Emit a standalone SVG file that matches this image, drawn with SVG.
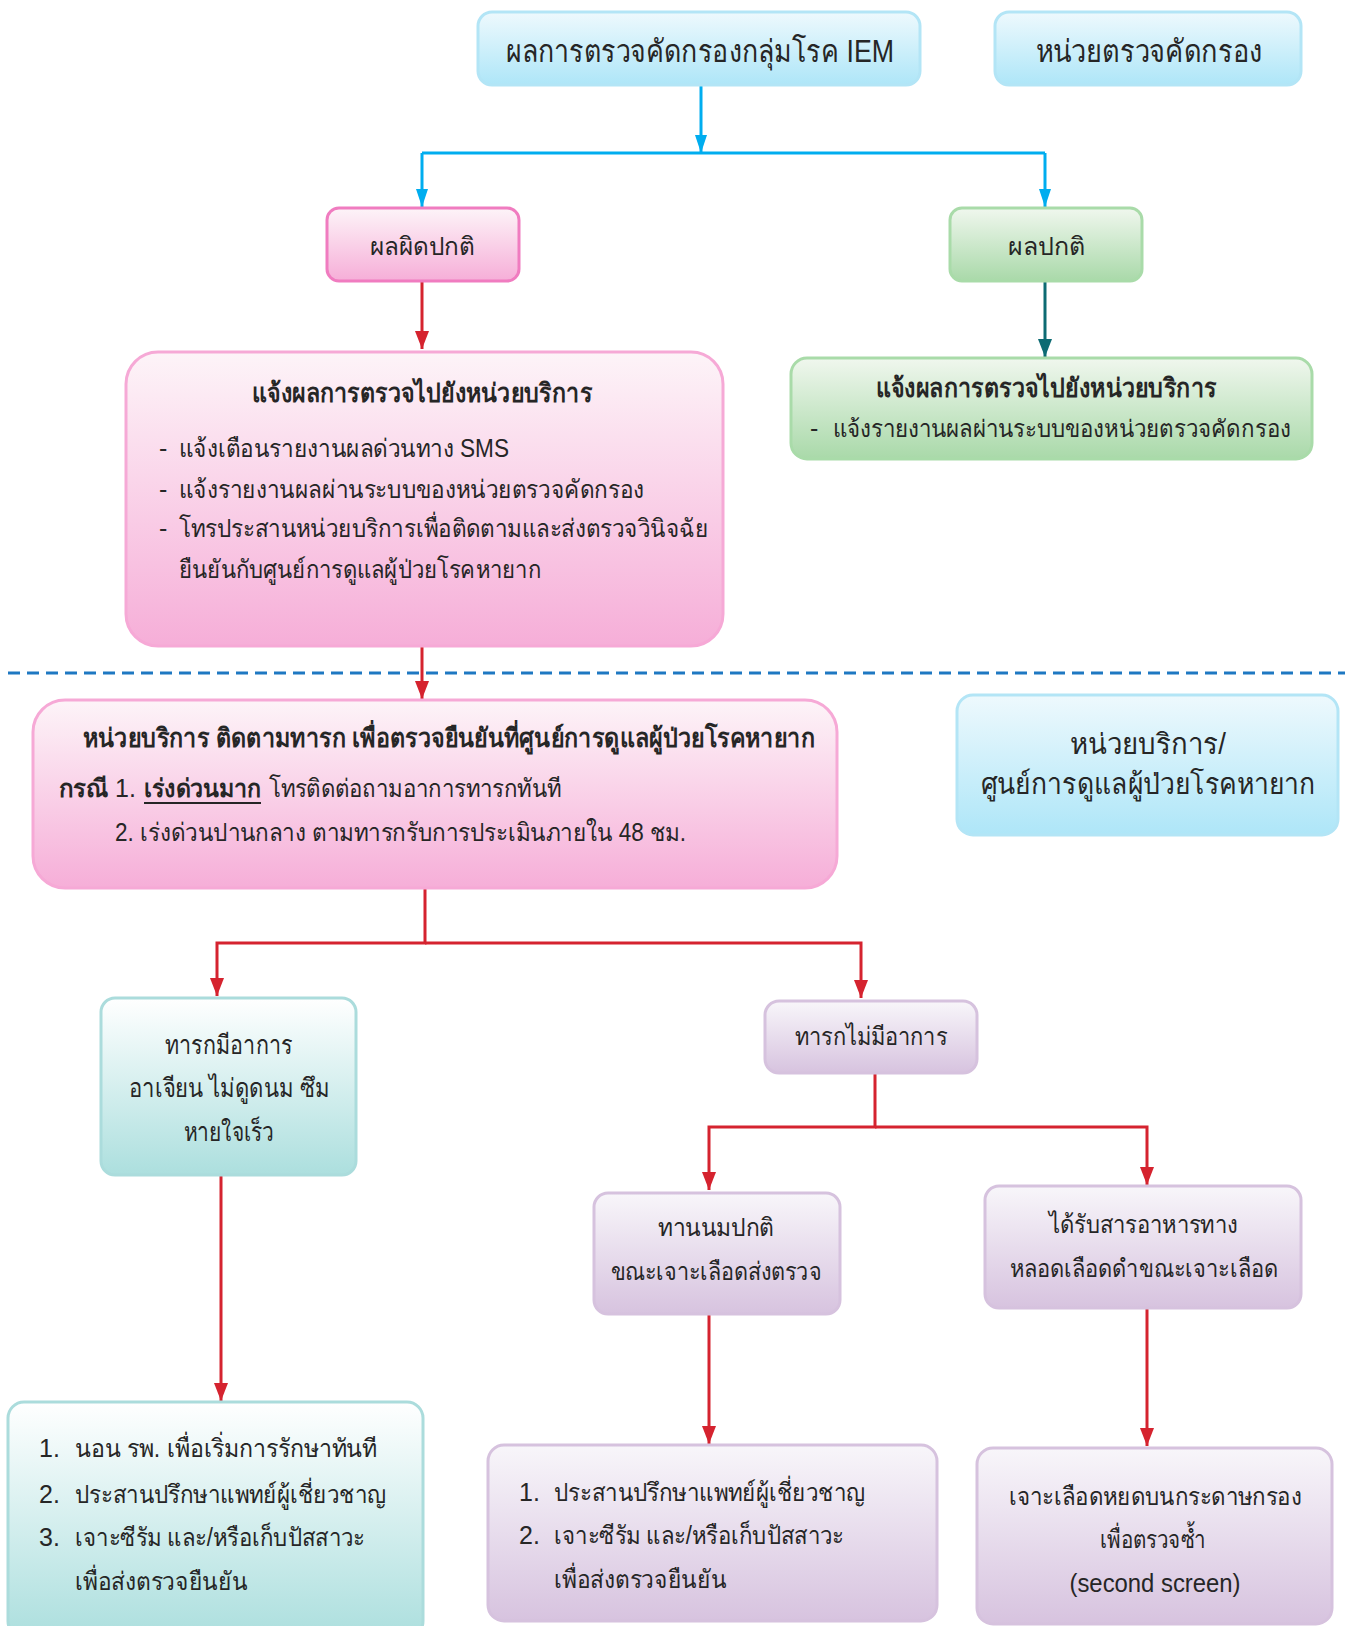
<svg xmlns="http://www.w3.org/2000/svg" width="1345" height="1626" viewBox="0 0 1345 1626">
<defs>
<linearGradient id="gBlue" x1="0" y1="0" x2="0" y2="1"><stop offset="0" stop-color="#eef9fd"/><stop offset="1" stop-color="#aee6f8"/></linearGradient>
<linearGradient id="gPink" x1="0" y1="0" x2="0" y2="1"><stop offset="0" stop-color="#fdf4f8"/><stop offset="1" stop-color="#f6aed8"/></linearGradient>
<linearGradient id="gGreen" x1="0" y1="0" x2="0" y2="1"><stop offset="0" stop-color="#f0f7ee"/><stop offset="1" stop-color="#a9d9a9"/></linearGradient>
<linearGradient id="gTeal" x1="0" y1="0" x2="0" y2="1"><stop offset="0" stop-color="#ffffff"/><stop offset="1" stop-color="#acdfde"/></linearGradient>
<linearGradient id="gPurple" x1="0" y1="0" x2="0" y2="1"><stop offset="0" stop-color="#f8f6fa"/><stop offset="1" stop-color="#d7c3df"/></linearGradient>
<marker id="aBlue" markerWidth="12" markerHeight="18" refX="6" refY="18" markerUnits="userSpaceOnUse" viewBox="0 0 12 18"><path d="M0,0 L12,0 L6,18 Z" fill="#00adef"/></marker>
<marker id="aRed" markerWidth="14" markerHeight="18" refX="7" refY="18" markerUnits="userSpaceOnUse" viewBox="0 0 14 18"><path d="M0,0 L14,0 L7,18 Z" fill="#d5232f"/></marker>
<marker id="aTeal" markerWidth="14" markerHeight="18" refX="7" refY="18" markerUnits="userSpaceOnUse" viewBox="0 0 14 18"><path d="M0,0 L14,0 L7,18 Z" fill="#0d6b73"/></marker>
</defs>
<style>
text{font-family:"Liberation Sans","DejaVu Sans",sans-serif;fill:#262626;}
.c{text-anchor:middle;}
.b{font-weight:bold;}
.blue{fill:url(#gBlue);stroke:#b3e5f6;stroke-width:3;}
.pink{fill:url(#gPink);stroke:#f6a9d6;stroke-width:3;}
.pink2{fill:url(#gPink);stroke:#f07cc0;stroke-width:3;}
.green{fill:url(#gGreen);stroke:#a9dba9;stroke-width:3;}
.teal{fill:url(#gTeal);stroke:#abdcdc;stroke-width:3;}
.purple{fill:url(#gPurple);stroke:#d6c2de;stroke-width:3;}
.lb{fill:none;stroke:#00adef;stroke-width:3;}
.lr{fill:none;stroke:#d5232f;stroke-width:3;}
.lt{fill:none;stroke:#0d6b73;stroke-width:3;}
</style>
<rect width="1345" height="1626" fill="#ffffff"/>

<g id="connectors">
<path class="lb" d="M701,85 V153" marker-end="url(#aBlue)"/>
<path class="lb" d="M422,153 H1045"/>
<path class="lb" d="M422,153 V207" marker-end="url(#aBlue)"/>
<path class="lb" d="M1045,153 V207" marker-end="url(#aBlue)"/>
<path class="lr" d="M422,281 V349" marker-end="url(#aRed)"/>
<path class="lt" d="M1045,281 V357" marker-end="url(#aTeal)"/>
<path d="M8,673 H1345" fill="none" stroke="#1e78c2" stroke-width="3" stroke-dasharray="12,7"/>
<path class="lr" d="M422,646 V699" marker-end="url(#aRed)"/>
<path class="lr" d="M425,888 V943 H217 V996" marker-end="url(#aRed)"/>
<path class="lr" d="M425,943 H861 V998" marker-end="url(#aRed)"/>
<path class="lr" d="M221,1175 V1401" marker-end="url(#aRed)"/>
<path class="lr" d="M875,1073 V1127 H709 V1190" marker-end="url(#aRed)"/>
<path class="lr" d="M875,1127 H1147 V1185" marker-end="url(#aRed)"/>
<path class="lr" d="M709,1314 V1444" marker-end="url(#aRed)"/>
<path class="lr" d="M1147,1308 V1446" marker-end="url(#aRed)"/>
</g>

<g id="n-top">
<rect class="blue" x="478" y="12" width="442" height="73" rx="14"/>
<text class="c" x="700" y="62" font-size="31" textLength="388" lengthAdjust="spacingAndGlyphs">ผลการตรวจคัดกรองกลุ่มโรค IEM</text>
</g>
<g id="n-screen-unit">
<rect class="blue" x="995" y="12" width="306" height="73" rx="14"/>
<text class="c" x="1149" y="62" font-size="31" textLength="227" lengthAdjust="spacingAndGlyphs">หน่วยตรวจคัดกรอง</text>
</g>
<g id="n-abnormal">
<rect class="pink2" x="327" y="208" width="192" height="73" rx="12"/>
<text class="c" x="422" y="255" font-size="25" textLength="105" lengthAdjust="spacingAndGlyphs">ผลผิดปกติ</text>
</g>
<g id="n-normal">
<rect class="green" x="950" y="208" width="192" height="73" rx="12"/>
<text class="c" x="1046" y="255" font-size="25" textLength="77" lengthAdjust="spacingAndGlyphs">ผลปกติ</text>
</g>
<g id="n-notify-abn">
<rect class="pink" x="126" y="352" width="597" height="294" rx="32"/>
<text class="c b" x="422" y="402" font-size="26" textLength="340" lengthAdjust="spacingAndGlyphs">แจ้งผลการตรวจไปยังหน่วยบริการ</text>
<text x="159" y="457" font-size="25">-</text><text x="179" y="457" font-size="25" textLength="330" lengthAdjust="spacingAndGlyphs">แจ้งเตือนรายงานผลด่วนทาง SMS</text>
<text x="159" y="498" font-size="25">-</text><text x="179" y="498" font-size="25" textLength="465" lengthAdjust="spacingAndGlyphs">แจ้งรายงานผลผ่านระบบของหน่วยตรวจคัดกรอง</text>
<text x="159" y="537" font-size="25">-</text><text x="179" y="537" font-size="25" textLength="529" lengthAdjust="spacingAndGlyphs">โทรประสานหน่วยบริการเพื่อติดตามและส่งตรวจวินิจฉัย</text>
<text x="179" y="578" font-size="25" textLength="362" lengthAdjust="spacingAndGlyphs">ยืนยันกับศูนย์การดูแลผู้ป่วยโรคหายาก</text>
</g>
<g id="n-notify-norm">
<rect class="green" x="791" y="358" width="521" height="101" rx="16"/>
<text class="c b" x="1046" y="397" font-size="26" textLength="341" lengthAdjust="spacingAndGlyphs">แจ้งผลการตรวจไปยังหน่วยบริการ</text>
<text x="810" y="437" font-size="25">-</text><text x="833" y="437" font-size="24" textLength="458" lengthAdjust="spacingAndGlyphs">แจ้งรายงานผลผ่านระบบของหน่วยตรวจคัดกรอง</text>
</g>
<g id="n-followup">
<rect class="pink" x="33" y="700" width="804" height="188" rx="32"/>
<text class="b" x="83" y="747" font-size="26" textLength="732" lengthAdjust="spacingAndGlyphs">หน่วยบริการ ติดตามทารก เพื่อตรวจยืนยันที่ศูนย์การดูแลผู้ป่วยโรคหายาก</text>
<text class="b" x="59" y="797" font-size="25" textLength="49" lengthAdjust="spacingAndGlyphs">กรณี</text>
<text x="115" y="797" font-size="25">1.</text>
<text class="b" x="144" y="797" font-size="25" textLength="117" lengthAdjust="spacingAndGlyphs">เร่งด่วนมาก</text>
<path d="M144,803 H261" stroke="#262626" stroke-width="2"/>
<text x="269" y="797" font-size="25" textLength="292" lengthAdjust="spacingAndGlyphs">โทรติดต่อถามอาการทารกทันที</text>
<text x="115" y="841" font-size="25" textLength="571" lengthAdjust="spacingAndGlyphs">2. เร่งด่วนปานกลาง ตามทารกรับการประเมินภายใน 48 ชม.</text>
</g>
<g id="n-service-unit">
<rect class="blue" x="957" y="695" width="381" height="140" rx="16"/>
<text class="c" x="1148" y="754" font-size="29" textLength="156" lengthAdjust="spacingAndGlyphs">หน่วยบริการ/</text>
<text class="c" x="1148" y="794" font-size="29" textLength="335" lengthAdjust="spacingAndGlyphs">ศูนย์การดูแลผู้ป่วยโรคหายาก</text>
</g>
<g id="n-symptom">
<rect class="teal" x="101" y="998" width="255" height="177" rx="14"/>
<text class="c" x="229" y="1054" font-size="26" textLength="128" lengthAdjust="spacingAndGlyphs">ทารกมีอาการ</text>
<text class="c" x="229" y="1097" font-size="26" textLength="201" lengthAdjust="spacingAndGlyphs">อาเจียน ไม่ดูดนม ซึม</text>
<text class="c" x="229" y="1141" font-size="26" textLength="91" lengthAdjust="spacingAndGlyphs">หายใจเร็ว</text>
</g>
<g id="n-nosymptom">
<rect class="purple" x="765" y="1001" width="212" height="72" rx="14"/>
<text class="c" x="871" y="1045" font-size="25" textLength="152" lengthAdjust="spacingAndGlyphs">ทารกไม่มีอาการ</text>
</g>
<g id="n-milk">
<rect class="purple" x="594" y="1193" width="246" height="121" rx="14"/>
<text class="c" x="716" y="1236" font-size="25" textLength="116" lengthAdjust="spacingAndGlyphs">ทานนมปกติ</text>
<text class="c" x="716" y="1280" font-size="25" textLength="211" lengthAdjust="spacingAndGlyphs">ขณะเจาะเลือดส่งตรวจ</text>
</g>
<g id="n-tpn">
<rect class="purple" x="985" y="1186" width="316" height="122" rx="14"/>
<text class="c" x="1143" y="1233" font-size="25" textLength="189" lengthAdjust="spacingAndGlyphs">ได้รับสารอาหารทาง</text>
<text class="c" x="1144" y="1277" font-size="25" textLength="268" lengthAdjust="spacingAndGlyphs">หลอดเลือดดำขณะเจาะเลือด</text>
</g>
<g id="n-admit">
<rect class="teal" x="8" y="1402" width="415" height="235" rx="16"/>
<text x="39" y="1457" font-size="25">1.</text><text x="75" y="1457" font-size="25" textLength="302" lengthAdjust="spacingAndGlyphs">นอน รพ. เพื่อเริ่มการรักษาทันที</text>
<text x="39" y="1503" font-size="25">2.</text><text x="75" y="1503" font-size="25" textLength="311" lengthAdjust="spacingAndGlyphs">ประสานปรึกษาแพทย์ผู้เชี่ยวชาญ</text>
<text x="39" y="1546" font-size="25">3.</text><text x="75" y="1546" font-size="25" textLength="290" lengthAdjust="spacingAndGlyphs">เจาะซีรัม และ/หรือเก็บปัสสาวะ</text>
<text x="75" y="1590" font-size="25" textLength="172" lengthAdjust="spacingAndGlyphs">เพื่อส่งตรวจยืนยัน</text>
</g>
<g id="n-consult">
<rect class="purple" x="488" y="1445" width="449" height="176" rx="16"/>
<text x="519" y="1501" font-size="25">1.</text><text x="554" y="1501" font-size="25" textLength="311" lengthAdjust="spacingAndGlyphs">ประสานปรึกษาแพทย์ผู้เชี่ยวชาญ</text>
<text x="519" y="1544" font-size="25">2.</text><text x="554" y="1544" font-size="25" textLength="290" lengthAdjust="spacingAndGlyphs">เจาะซีรัม และ/หรือเก็บปัสสาวะ</text>
<text x="554" y="1588" font-size="25" textLength="172" lengthAdjust="spacingAndGlyphs">เพื่อส่งตรวจยืนยัน</text>
</g>
<g id="n-rescreen">
<rect class="purple" x="977" y="1448" width="355" height="176" rx="16"/>
<text class="c" x="1155" y="1505" font-size="25" textLength="293" lengthAdjust="spacingAndGlyphs">เจาะเลือดหยดบนกระดาษกรอง</text>
<text class="c" x="1153" y="1548" font-size="25" textLength="106" lengthAdjust="spacingAndGlyphs">เพื่อตรวจซ้ำ</text>
<text class="c" x="1155" y="1592" font-size="25" textLength="171" lengthAdjust="spacingAndGlyphs">(second screen)</text>
</g>
</svg>
